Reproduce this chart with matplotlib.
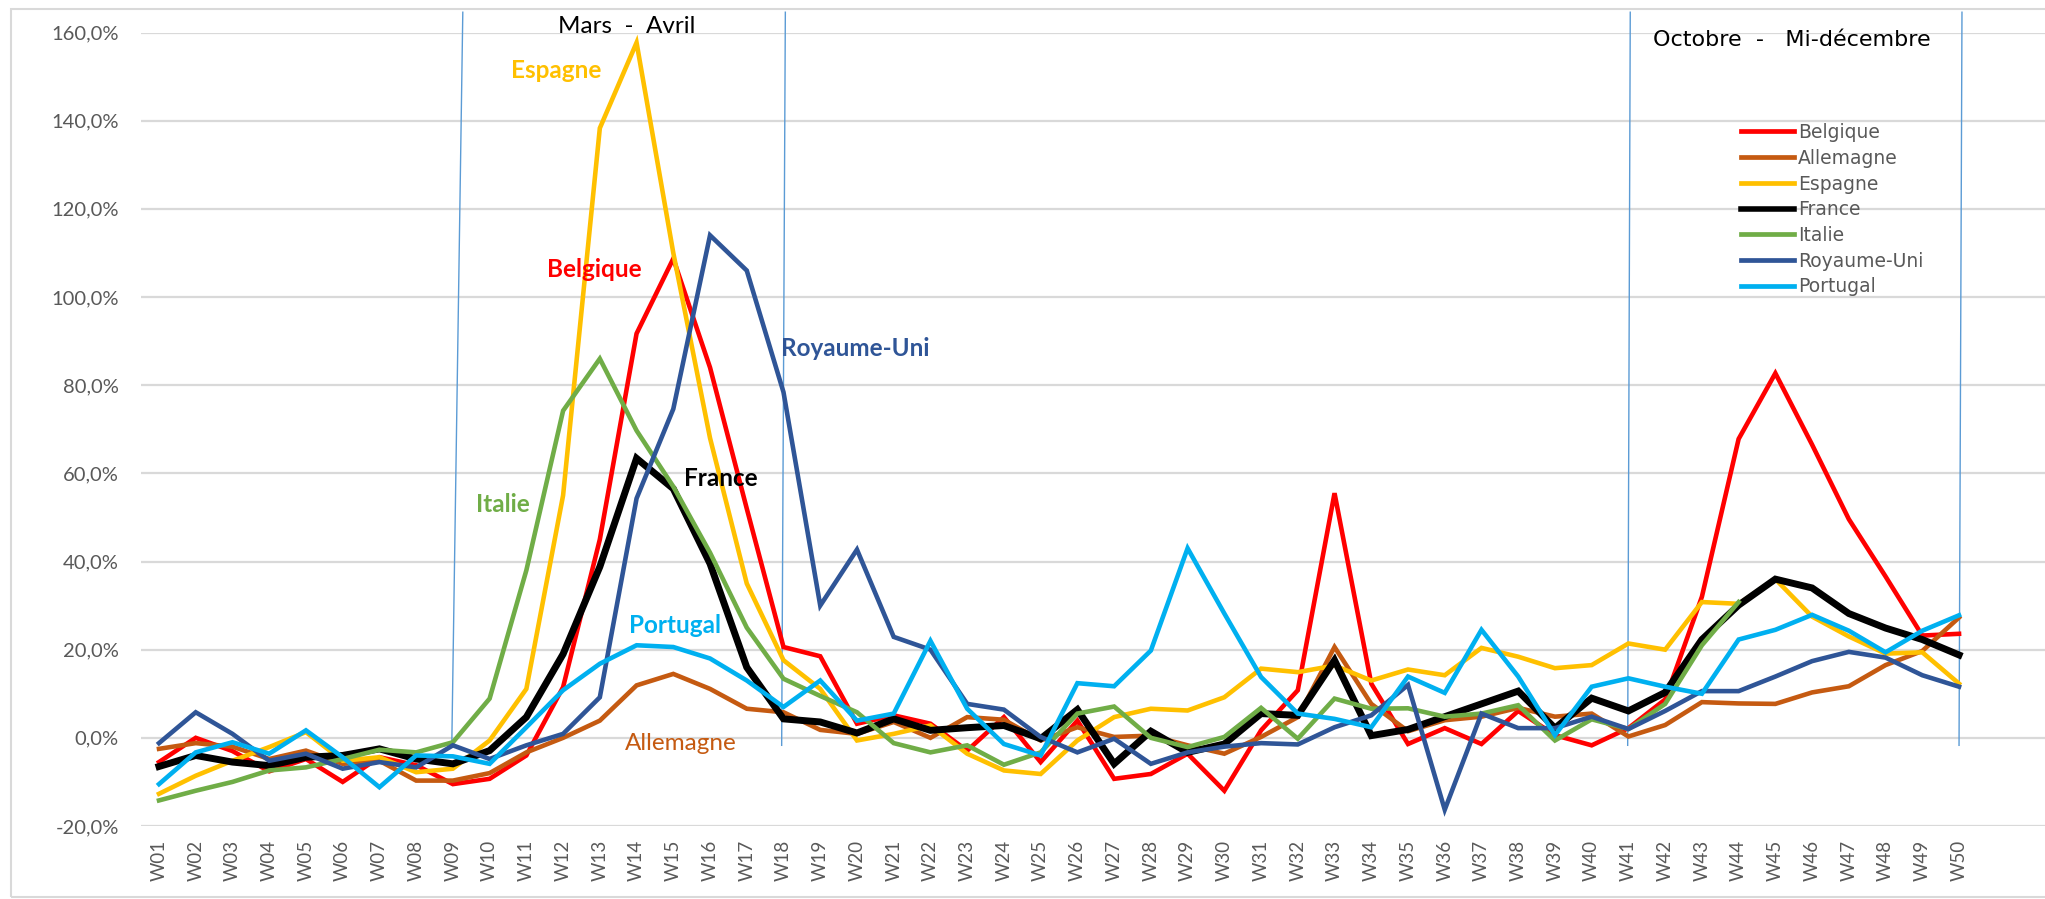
import matplotlib
matplotlib.use("Agg")
import matplotlib.pyplot as plt
from matplotlib.patches import Rectangle
import numpy as np

weeks = ["W%02d" % i for i in range(1, 51)]

belgique = [-5.5, 0, -3, -7.6, -4.8, -10, -4.4, -6.2, -10.5, -9.3,
            -4, 11.5, 45, 91.7, 108.7, 84, 52, 20.6, 18.5, 3.2,
            5.1, 3.2, -2.9, 4.7, -5.5, 3.9, -9.3, -8.2, -3.6, -12,
            1.7, 10.8, 55.5, 12.3, -1.4, 2.2, -1.4, 6.1, 0.6, -1.7,
            2.2, 8.7, 32, 67.8, 82.7, 66.5, 49.6, 36.6, 23.2, 23.6]
allemagne = [-2.5, -1.2, -2, -4.8, -2.9, -5.9, -5.2, -9.7, -9.7, -8,
             -3.3, 0, 3.9, 11.9, 14.5, 11.1, 6.6, 5.8, 1.8, 0.9,
             3.6, 0, 4.7, 4.1, -0.6, 2.4, 0.2, 0.5, -1.7, -3.6,
             0.2, 4.7, 20.6, 7.7, 1.5, 4, 4.8, 6.8, 4.8, 5.5,
             0.3, 2.9, 8.1, 7.8, 7.7, 10.3, 11.7, 16.5, 19.7, 27.3]
espagne = [-12.7, -8.6, -5.2, -2.1, 1.3, -5.2, -4.4, -7.8, -7, -0.6,
           11.1, 55, 138.3, 157.7, 110, 68, 35, 17.6, 11.1, -0.6,
           0.9, 2.8, -3.6, -7.4, -8.2, -0.6, 4.7, 6.6, 6.2, 9.2,
           15.7, 14.9, 16.4, 13, 15.5, 14.2, 20.4, 18.4, 15.8, 16.5,
           21.4, 20, 30.8, 30.4, 36, 27.5, 23, 19.1, 19.4, 12.3]
france = [-6.5, -4, -5.5, -6.3, -4.4, -4, -2.5, -4.8, -5.9, -2.9,
          4.7, 19, 38.8, 63.4, 56.5, 39.5, 16, 4.3, 3.6, 1.1,
          4.3, 1.7, 2.3, 2.8, -0.2, 6.4, -5.9, 1.5, -3.3, -1.4,
          5.5, 5.1, 17.6, 0.5, 1.9, 4.8, 7.7, 10.6, 2.2, 9,
          6.1, 10.3, 22.3, 30.1, 36, 34, 28.2, 24.9, 22.3, 18.8]
italie = [-14.2, -12, -10, -7.4, -6.7, -4.8, -2.7, -3.3, -1, 8.9,
          38, 74.2, 86, 69.7, 57, 42, 25, 13.4, 9.5, 5.8,
          -1.2, -3.3, -1.7, -6.1, -3.3, 5.5, 7.1, 0, -2.1, 0.2,
          6.8, -0.2, 8.9, 6.6, 6.7, 4.8, 5.5, 7.4, -0.6, 4.2,
          2, 7.7, 21, 30.8, np.nan, np.nan, np.nan, np.nan, np.nan, np.nan]
royaume_uni = [-1.2, 5.8, 0.9, -5.2, -3.6, -7, -5.5, -6.7, -1.7, -4.8,
               -1.7, 0.9, 9.2, 54.3, 74.6, 114, 106, 78.4, 30, 42.7,
               22.9, 20, 7.7, 6.4, 0.2, -3.3, -0.2, -5.9, -3.3, -2,
               -1.2, -1.5, 2.4, 5.1, 12, -16.3, 5.5, 2.2, 2.2, 4.8,
               2, 6.1, 10.6, 10.6, 13.9, 17.4, 19.5, 18.2, 14.2, 11.6]
portugal = [-10.5, -3.3, -1, -3.6, 1.7, -4.4, -11.2, -4, -4.2, -5.9,
            2.4, 10.8, 16.8, 21, 20.6, 18, 13, 7, 13, 3.9,
            5.5, 22, 6.6, -1.4, -4, 12.4, 11.7, 19.8, 43, 28.2,
            13.8, 5.5, 4.3, 2.4, 13.9, 10.2, 24.5, 13.9, 0.6, 11.6,
            13.5, 11.6, 10, 22.3, 24.5, 27.9, 24.3, 19.4, 24.3, 27.8]

series_names = ["Belgique", "Allemagne", "Espagne", "France", "Italie", "Royaume-Uni", "Portugal"]
series_values = [belgique, allemagne, espagne, france, italie, royaume_uni, portugal]
series_colors = ["#FF0000", "#C55A11", "#FFC000", "#000000", "#70AD47", "#2F5597", "#00B0F0"]

y_ticks = [-20, 0, 20, 40, 60, 80, 100, 120, 140, 160]
y_tick_labels = ["-20,0%", "0,0%", "20,0%", "40,0%", "60,0%", "80,0%",
                 "100,0%", "120,0%", "140,0%", "160,0%"]

# period markers: (x top, x bottom) in week units
period_lines = [(9.27, 8.97), (18.05, 17.95), (41.05, 40.98), (50.08, 50.0)]

# inline series labels: text, x, y, colour, bold
inline_labels = [("Espagne", 11.8, 151.3, "#FFC000", True),
                 ("Belgique", 12.85, 106.3, "#FF0000", True),
                 ("Royaume-Uni", 19.95, 88.4, "#2F5597", True),
                 ("Italie", 10.35, 53.0, "#70AD47", True),
                 ("France", 16.3, 58.8, "#000000", True),
                 ("Portugal", 15.05, 25.4, "#00B0F0", True),
                 ("Allemagne", 15.2, -1.3, "#C55A11", False)]

plt.rcParams['font.family'] = ['Lato', 'DejaVu Sans']

fig = plt.figure(figsize=(20.45, 8.99), dpi=100)
ax = fig.add_axes([141 / 2045, 73 / 899, 1904 / 2045, 793.5 / 899])

x = np.arange(1, 51)
for name, vals, col in zip(series_names, series_values, series_colors):
    lw = 5.0 if name == "France" else 3.3
    ax.plot(x, vals, color=col, lw=lw, label=name, solid_joinstyle="miter", zorder=3)

ax.set_xlim(0.51, 52.34)
ax.set_ylim(-20, 160)
ax.set_yticks(y_ticks)
ax.set_yticklabels(y_tick_labels)
ax.set_xticks(x)
ax.set_xticklabels(weeks, rotation=90)
ax.tick_params(axis="y", length=0, pad=16, labelsize=14.5, labelcolor="#595959")
ax.tick_params(axis="x", length=0, pad=10, labelsize=13.5, labelcolor="#595959")
ax.grid(axis="y", color="#D9D9D9", lw=1.6)
ax.set_axisbelow(True)
for s in ax.spines.values():
    s.set_visible(False)

for xt, xb in period_lines:
    ax.plot([xt, xb], [164.6, -1.7], color="#5B9BD5", lw=1.0, clip_on=False, zorder=2)

ax.text(13.74, 161.3, "Mars  -  Avril", ha="center", va="center", fontsize=17.5, color="black")
ax.text(45.45, 158.3, "Octobre  -   Mi-décembre", ha="center", va="center",
        fontsize=16, color="black", family="DejaVu Sans")

for txt, tx, ty, col, bold in inline_labels:
    ax.text(tx, ty, txt, ha="center", va="center", fontsize=17.5, color=col,
            fontweight="bold" if bold else "normal", zorder=4)

leg = ax.legend(loc="upper left", bbox_to_anchor=(1741 / 2045, 1 - 123 / 899),
                bbox_transform=fig.transFigure, frameon=False,
                prop={"family": "DejaVu Sans", "size": 13.5}, handlelength=2.8,
                handletextpad=0.25, labelspacing=0.36, borderpad=0, borderaxespad=0)
for t in leg.get_texts():
    t.set_color("#595959")
for h in leg.get_lines():
    h.set_linewidth(4.0 if h.get_label() == "France" else 3.4)

fig.patches.append(Rectangle((11 / 2045, 2 / 899), 2040 / 2045, 888 / 899,
                             transform=fig.transFigure, fill=False,
                             edgecolor="#D9D9D9", lw=1.5))

fig.savefig("out.png", dpi=100)
